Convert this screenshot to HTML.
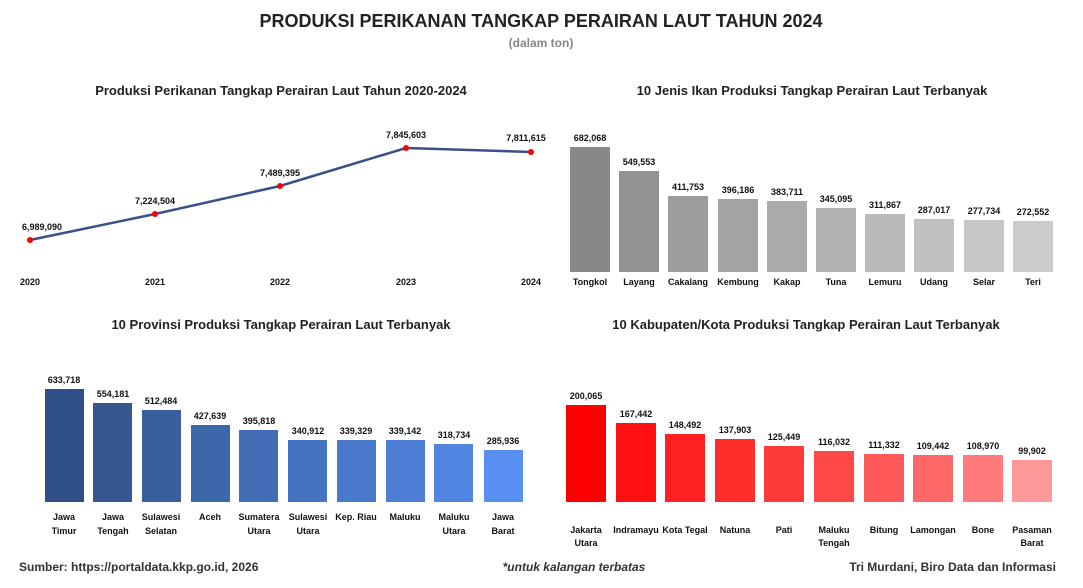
<!DOCTYPE html>
<html><head><meta charset="utf-8"><style>
body{margin:0;background:#fff;}
svg{display:block;font-family:"Liberation Sans",sans-serif;}
.t{font-weight:bold;font-size:10px;fill:#111;text-anchor:middle;}
.v{font-weight:bold;font-size:9px;fill:#111;text-anchor:middle;}
.h{font-weight:bold;font-size:13px;fill:#222;text-anchor:middle;}
</style></head><body>
<svg width="1083" height="588" viewBox="0 0 1083 588">
<text x="541" y="27" text-anchor="middle" font-weight="bold" font-size="18" fill="#222">PRODUKSI PERIKANAN TANGKAP PERAIRAN LAUT TAHUN 2024</text>
<text x="541" y="47" text-anchor="middle" font-weight="bold" font-size="12" fill="#888">(dalam ton)</text>

<text class="h" x="281" y="95">Produksi Perikanan Tangkap Perairan Laut Tahun 2020-2024</text>
<text class="h" x="812" y="95">10 Jenis Ikan Produksi Tangkap Perairan Laut Terbanyak</text>
<text class="h" x="281" y="329">10 Provinsi Produksi Tangkap Perairan Laut Terbanyak</text>
<text class="h" x="806" y="329">10 Kabupaten/Kota Produksi Tangkap Perairan Laut Terbanyak</text>

<!-- line chart -->
<polyline points="30,240 155,214 280,186 406,148 531,152" fill="none" stroke="#3a5088" stroke-width="2.5"/>
<g fill="#f00"><circle cx="30" cy="240" r="3"/><circle cx="155" cy="214" r="3"/><circle cx="280" cy="186" r="3"/><circle cx="406" cy="148" r="3"/><circle cx="531" cy="152" r="3"/></g>
<g class="v"><text x="42" y="230">6,989,090</text><text x="155" y="204">7,224,504</text><text x="280" y="176">7,489,395</text><text x="406" y="138">7,845,603</text><text x="526" y="141">7,811,615</text></g>
<g class="v"><text x="30" y="285">2020</text><text x="155" y="285">2021</text><text x="280" y="285">2022</text><text x="406" y="285">2023</text><text x="531" y="285">2024</text></g>

<!-- gray bars -->
<g>
<rect x="570" y="147" width="40" height="125" fill="#888"/>
<rect x="619" y="171" width="40" height="101" fill="#929292"/>
<rect x="668" y="196" width="40" height="76" fill="#9c9c9c"/>
<rect x="718" y="199" width="40" height="73" fill="#a3a3a3"/>
<rect x="767" y="201" width="40" height="71" fill="#aaa"/>
<rect x="816" y="208" width="40" height="64" fill="#b2b2b2"/>
<rect x="865" y="214" width="40" height="58" fill="#b9b9b9"/>
<rect x="914" y="219" width="40" height="53" fill="#c0c0c0"/>
<rect x="964" y="220" width="40" height="52" fill="#c6c6c6"/>
<rect x="1013" y="221" width="40" height="51" fill="#cbcbcb"/>
</g>
<g class="v"><text x="590" y="141">682,068</text><text x="639" y="165">549,553</text><text x="688" y="190">411,753</text><text x="738" y="193">396,186</text><text x="787" y="195">383,711</text><text x="836" y="202">345,095</text><text x="885" y="208">311,867</text><text x="934" y="213">287,017</text><text x="984" y="214">277,734</text><text x="1033" y="215">272,552</text></g>
<g class="v"><text x="590" y="285">Tongkol</text><text x="639" y="285">Layang</text><text x="688" y="285">Cakalang</text><text x="738" y="285">Kembung</text><text x="787" y="285">Kakap</text><text x="836" y="285">Tuna</text><text x="885" y="285">Lemuru</text><text x="934" y="285">Udang</text><text x="984" y="285">Selar</text><text x="1033" y="285">Teri</text></g>

<!-- blue bars -->
<g>
<rect x="45" y="389" width="39" height="113" fill="#2f4f86"/>
<rect x="93" y="403" width="39" height="99" fill="#355892"/>
<rect x="142" y="410" width="39" height="92" fill="#3a5f9e"/>
<rect x="191" y="425" width="39" height="77" fill="#3e66ab"/>
<rect x="239" y="430" width="39" height="72" fill="#426cb6"/>
<rect x="288" y="440" width="39" height="62" fill="#4672c2"/>
<rect x="337" y="440" width="39" height="62" fill="#4a78cc"/>
<rect x="386" y="440" width="39" height="62" fill="#4e7ed6"/>
<rect x="434" y="444" width="39" height="58" fill="#5285e0"/>
<rect x="484" y="450" width="39" height="52" fill="#588ff0"/>
</g>
<g class="v"><text x="64" y="383">633,718</text><text x="113" y="397">554,181</text><text x="161" y="404">512,484</text><text x="210" y="419">427,639</text><text x="259" y="424">395,818</text><text x="308" y="434">340,912</text><text x="356" y="434">339,329</text><text x="405" y="434">339,142</text><text x="454" y="438">318,734</text><text x="503" y="444">285,936</text></g>
<g class="v"><text x="64" y="520">Jawa</text><text x="64" y="534">Timur</text><text x="113" y="520">Jawa</text><text x="113" y="534">Tengah</text><text x="161" y="520">Sulawesi</text><text x="161" y="534">Selatan</text><text x="210" y="520">Aceh</text><text x="259" y="520">Sumatera</text><text x="259" y="534">Utara</text><text x="308" y="520">Sulawesi</text><text x="308" y="534">Utara</text><text x="356" y="520">Kep. Riau</text><text x="405" y="520">Maluku</text><text x="454" y="520">Maluku</text><text x="454" y="534">Utara</text><text x="503" y="520">Jawa</text><text x="503" y="534">Barat</text></g>

<!-- red bars -->
<g>
<rect x="566" y="405" width="40" height="97" fill="#ff0000"/>
<rect x="616" y="423" width="40" height="79" fill="#ff1010"/>
<rect x="665" y="434" width="40" height="68" fill="#ff2020"/>
<rect x="715" y="439" width="40" height="63" fill="#ff2c2c"/>
<rect x="764" y="446" width="40" height="56" fill="#ff3a3a"/>
<rect x="814" y="451" width="40" height="51" fill="#ff4848"/>
<rect x="864" y="454" width="40" height="48" fill="#ff5858"/>
<rect x="913" y="455" width="40" height="47" fill="#ff6868"/>
<rect x="963" y="455" width="40" height="47" fill="#ff7a7a"/>
<rect x="1012" y="460" width="40" height="42" fill="#ff9999"/>
</g>
<g class="v"><text x="586" y="399">200,065</text><text x="636" y="417">167,442</text><text x="685" y="428">148,492</text><text x="735" y="433">137,903</text><text x="784" y="440">125,449</text><text x="834" y="445">116,032</text><text x="884" y="448">111,332</text><text x="933" y="449">109,442</text><text x="983" y="449">108,970</text><text x="1032" y="454">99,902</text></g>
<g class="v"><text x="586" y="533">Jakarta</text><text x="586" y="546">Utara</text><text x="636" y="533">Indramayu</text><text x="685" y="533">Kota Tegal</text><text x="735" y="533">Natuna</text><text x="784" y="533">Pati</text><text x="834" y="533">Maluku</text><text x="834" y="546">Tengah</text><text x="884" y="533">Bitung</text><text x="933" y="533">Lamongan</text><text x="983" y="533">Bone</text><text x="1032" y="533">Pasaman</text><text x="1032" y="546">Barat</text></g>

<text x="19" y="571" font-size="12" font-weight="bold" fill="#333">Sumber: https://portaldata.kkp.go.id, 2026</text>
<text x="574" y="571" font-size="12" font-weight="bold" font-style="italic" fill="#333" text-anchor="middle">*untuk kalangan terbatas</text>
<text x="1056" y="571" font-size="12" font-weight="bold" fill="#333" text-anchor="end">Tri Murdani, Biro Data dan Informasi</text>
</svg>
</body></html>
